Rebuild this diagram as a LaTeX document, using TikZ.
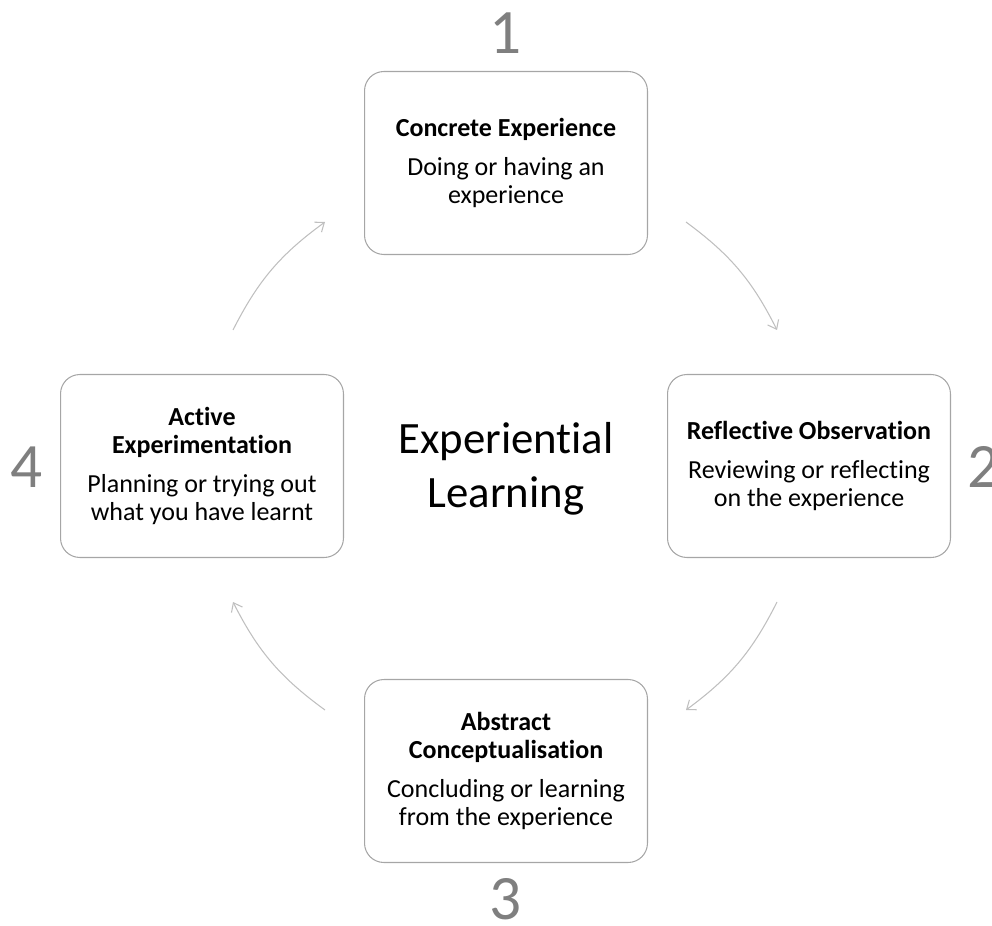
\documentclass[tikz,border=0pt]{standalone}
\usepackage{fontspec}
\setmainfont{Carlito}[Ligatures = NoCommon]
\usetikzlibrary{arrows.meta}
\definecolor{boxgray}{RGB}{166,166,166}
\definecolor{arrowgray}{RGB}{191,191,191}
\definecolor{numgray}{RGB}{127,127,127}

\begin{document}
\begin{tikzpicture}
    [
        x = 0.02cm, y = -0.02cm,
        stage/.style = {draw = boxgray, line width = 0.6pt, rounded corners = 11pt, minimum width = 5.66cm, minimum height = 3.66cm, align = center, inner sep = 0pt, font = \fontsize{14.8}{15.9}\selectfont},
        stagenum/.style = {text = numgray, inner sep = 0pt, font = \fontsize{36}{40}\selectfont},
        cyclearrow/.style = {draw = arrowgray, line width = 0.6pt, -{Straight Barb[length = 4.5pt, width = 7pt]}}
    ]
        \useasboundingbox (0,0) rectangle (992,926);

        \node[stage] (concrete) at (506,163) {\textbf{Concrete Experience}\\[6pt]Doing or having an\\experience};
        \node[stage] (reflective) at (809,466) {\textbf{Reflective Observation}\\[6pt]Reviewing or reflecting\\on the experience};
        \node[stage] (abstract) at (506,771) {\textbf{Abstract}\\\textbf{Conceptualisation}\\[6pt]Concluding or learning\\from the experience};
        \node[stage] (active) at (202,466) {\textbf{Active}\\\textbf{Experimentation}\\[6pt]Planning or trying out\\what you have learnt};

        \node[align = center, font = \fontsize{25.5}{31}\selectfont] (title) at (506,469) {Experiential\\Learning};

        \node[stagenum] (one) at (506,33) {1};
        \node[stagenum] (two) at (984,467) {2};
        \node[stagenum] (three) at (506,899) {3};
        \node[stagenum] (four) at (27,467) {4};

        \coordinate (cr) at (686,222);
        \coordinate (rc) at (777,330);
        \coordinate (ra) at (777,602);
        \coordinate (ar) at (686,710);
        \coordinate (aa) at (325,710);
        \coordinate (aaa) at (233,602);
        \coordinate (ac) at (233,330);
        \coordinate (ca) at (325,222);

        \draw[cyclearrow] (cr) to[bend left = 13.5] (rc);
        \draw[cyclearrow] (ra) to[bend left = 13.5] (ar);
        \draw[cyclearrow] (aa) to[bend left = 13.5] (aaa);
        \draw[cyclearrow] (ac) to[bend left = 13.5] (ca);
    \end{tikzpicture}
\end{document}
